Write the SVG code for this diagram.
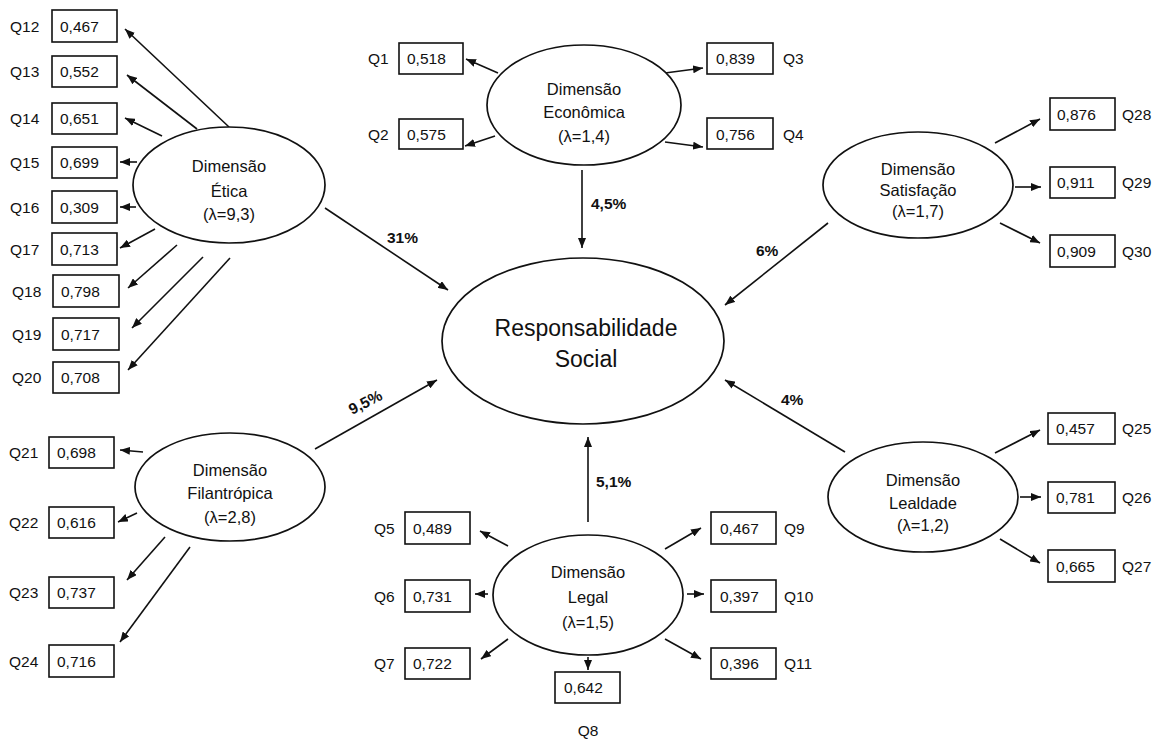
<svg xmlns="http://www.w3.org/2000/svg" width="1158" height="740" viewBox="0 0 1158 740">
<style>
text{font-family:"Liberation Sans",Arial,sans-serif;fill:#111}
.v{font-size:15.5px}
.q{font-size:15.5px}
.d{font-size:16.5px;text-anchor:middle}
.c{font-size:23px;text-anchor:middle}
.p{font-size:15.5px;font-weight:bold}
.box{fill:#fff;stroke:#111;stroke-width:1.6}
.ell{fill:#fff;stroke:#111;stroke-width:1.7}
.con line{stroke:#111;stroke-width:1.6;marker-end:url(#ah)}
</style>
<defs>
<marker id="ah" viewBox="0 0 10 8" refX="10" refY="4" markerWidth="10" markerHeight="8" markerUnits="userSpaceOnUse" orient="auto">
<path d="M0,0 L10,4 L0,8 z" fill="#111"/>
</marker>
</defs>
<rect width="1158" height="740" fill="#fff"/>

<g id="connectors" class="con">
<!-- Etica items -->
<line x1="229" y1="127" x2="125" y2="29"/>
<line x1="197" y1="129" x2="127" y2="75"/>
<line x1="162" y1="136" x2="125" y2="118"/>
<line x1="137" y1="162" x2="120" y2="162"/>
<line x1="136" y1="207" x2="120" y2="207"/>
<line x1="155" y1="229" x2="120" y2="248"/>
<line x1="177" y1="245" x2="128" y2="288"/>
<line x1="203" y1="257" x2="132" y2="328"/>
<line x1="230" y1="258" x2="128" y2="370"/>
<!-- Economica items -->
<line x1="498" y1="73" x2="466" y2="59"/>
<line x1="495" y1="136" x2="465" y2="146"/>
<line x1="665" y1="73" x2="703" y2="68"/>
<line x1="665" y1="142" x2="703" y2="147"/>
<!-- Satisfacao items -->
<line x1="995" y1="143" x2="1040" y2="119"/>
<line x1="1015" y1="187" x2="1041" y2="187"/>
<line x1="1000" y1="223" x2="1040" y2="243"/>
<!-- Lealdade items -->
<line x1="995" y1="453" x2="1040" y2="430"/>
<line x1="1020" y1="497" x2="1041" y2="497"/>
<line x1="1000" y1="539" x2="1040" y2="563"/>
<!-- Filantropica items -->
<line x1="143" y1="452" x2="120" y2="450"/>
<line x1="137" y1="513" x2="118" y2="522"/>
<line x1="165" y1="537" x2="127" y2="580"/>
<line x1="190" y1="547" x2="120" y2="642"/>
<!-- Legal items -->
<line x1="508" y1="546" x2="480" y2="531"/>
<line x1="488" y1="594" x2="475" y2="594"/>
<line x1="508" y1="639" x2="481" y2="659"/>
<line x1="588" y1="657" x2="588" y2="670"/>
<line x1="665" y1="549" x2="701" y2="528"/>
<line x1="687" y1="594" x2="704" y2="594"/>
<line x1="665" y1="639" x2="701" y2="659"/>
<!-- structural paths -->
<line x1="325" y1="208" x2="448" y2="290"/>
<line x1="582" y1="170" x2="582" y2="248"/>
<line x1="828" y1="223" x2="725" y2="305"/>
<line x1="845" y1="452" x2="725" y2="380"/>
<line x1="315" y1="449" x2="437" y2="380"/>
<line x1="588" y1="522" x2="588" y2="437"/>
</g>

<g id="path-labels">
<text class="p" x="387" y="243">31%</text>
<text class="p" x="591" y="209">4,5%</text>
<text class="p" x="756" y="256">6%</text>
<text class="p" x="781" y="405">4%</text>
<text class="p" x="596" y="487">5,1%</text>
<text class="p" x="0" y="0" transform="translate(352,415) rotate(-27)">9,5%</text>
</g>

<g id="node-rs">
<ellipse class="ell" cx="583" cy="341" rx="141" ry="83"/>
<text class="c" x="586" y="336">Responsabilidade</text>
<text class="c" x="586" y="367">Social</text>
</g>

<g id="node-etica">
<ellipse class="ell" cx="229" cy="185" rx="96" ry="58"/>
<text class="d" x="229" y="172">Dimensão</text>
<text class="d" x="229" y="197">Ética</text>
<text class="d" x="229" y="220">(λ=9,3)</text>
</g>

<g id="node-economica">
<ellipse class="ell" cx="584" cy="105" rx="97" ry="60"/>
<text class="d" x="584" y="95">Dimensão</text>
<text class="d" x="584" y="118">Econômica</text>
<text class="d" x="584" y="142">(λ=1,4)</text>
</g>

<g id="node-satisfacao">
<ellipse class="ell" cx="918" cy="185" rx="95" ry="53"/>
<text class="d" x="918" y="175">Dimensão</text>
<text class="d" x="918" y="196">Satisfação</text>
<text class="d" x="918" y="217">(λ=1,7)</text>
</g>

<g id="node-lealdade">
<ellipse class="ell" cx="923" cy="497" rx="95" ry="55"/>
<text class="d" x="923" y="486">Dimensão</text>
<text class="d" x="923" y="509">Lealdade</text>
<text class="d" x="923" y="531">(λ=1,2)</text>
</g>

<g id="node-filantropica">
<ellipse class="ell" cx="230" cy="487" rx="95" ry="54"/>
<text class="d" x="230" y="476">Dimensão</text>
<text class="d" x="230" y="499">Filantrópica</text>
<text class="d" x="230" y="523">(λ=2,8)</text>
</g>

<g id="node-legal">
<ellipse class="ell" cx="588" cy="595" rx="95" ry="60"/>
<text class="d" x="588" y="578">Dimensão</text>
<text class="d" x="588" y="603">Legal</text>
<text class="d" x="588" y="628">(λ=1,5)</text>
</g>

<!-- Etica items -->
<g id="q12"><rect class="box" x="52" y="10" width="65" height="32"/><text class="v" x="60" y="32">0,467</text><text class="q" x="10" y="32">Q12</text></g>
<g id="q13"><rect class="box" x="52" y="56" width="65" height="31"/><text class="v" x="60" y="77">0,552</text><text class="q" x="10" y="77">Q13</text></g>
<g id="q14"><rect class="box" x="52" y="103" width="65" height="31"/><text class="v" x="60" y="124">0,651</text><text class="q" x="10" y="124">Q14</text></g>
<g id="q15"><rect class="box" x="52" y="147" width="65" height="31"/><text class="v" x="60" y="168">0,699</text><text class="q" x="10" y="168">Q15</text></g>
<g id="q16"><rect class="box" x="52" y="191" width="65" height="32"/><text class="v" x="60" y="213">0,309</text><text class="q" x="10" y="213">Q16</text></g>
<g id="q17"><rect class="box" x="52" y="233" width="65" height="32"/><text class="v" x="60" y="255">0,713</text><text class="q" x="10" y="255">Q17</text></g>
<g id="q18"><rect class="box" x="53" y="275" width="66" height="32"/><text class="v" x="61" y="297">0,798</text><text class="q" x="12" y="297">Q18</text></g>
<g id="q19"><rect class="box" x="53" y="318" width="66" height="32"/><text class="v" x="61" y="340">0,717</text><text class="q" x="12" y="340">Q19</text></g>
<g id="q20"><rect class="box" x="53" y="362" width="66" height="31"/><text class="v" x="61" y="383">0,708</text><text class="q" x="12" y="383">Q20</text></g>

<!-- Filantropica items -->
<g id="q21"><rect class="box" x="49" y="437" width="65" height="31"/><text class="v" x="57" y="458">0,698</text><text class="q" x="9" y="458">Q21</text></g>
<g id="q22"><rect class="box" x="49" y="507" width="65" height="31"/><text class="v" x="57" y="528">0,616</text><text class="q" x="9" y="528">Q22</text></g>
<g id="q23"><rect class="box" x="49" y="577" width="65" height="31"/><text class="v" x="57" y="598">0,737</text><text class="q" x="9" y="598">Q23</text></g>
<g id="q24"><rect class="box" x="49" y="645" width="65" height="32"/><text class="v" x="57" y="667">0,716</text><text class="q" x="9" y="667">Q24</text></g>

<!-- Economica items -->
<g id="q1"><rect class="box" x="399" y="43" width="64" height="31"/><text class="v" x="407" y="64">0,518</text><text class="q" x="368" y="64">Q1</text></g>
<g id="q2"><rect class="box" x="399" y="119" width="64" height="30"/><text class="v" x="407" y="140">0,575</text><text class="q" x="368" y="140">Q2</text></g>
<g id="q3"><rect class="box" x="707" y="43" width="66" height="31"/><text class="v" x="716" y="64">0,839</text><text class="q" x="783" y="64">Q3</text></g>
<g id="q4"><rect class="box" x="707" y="118" width="66" height="31"/><text class="v" x="716" y="140">0,756</text><text class="q" x="783" y="140">Q4</text></g>

<!-- Satisfacao items -->
<g id="q28"><rect class="box" x="1050" y="98" width="65" height="32"/><text class="v" x="1057" y="120">0,876</text><text class="q" x="1122" y="120">Q28</text></g>
<g id="q29"><rect class="box" x="1050" y="167" width="65" height="31"/><text class="v" x="1057" y="188">0,911</text><text class="q" x="1122" y="188">Q29</text></g>
<g id="q30"><rect class="box" x="1050" y="235" width="65" height="32"/><text class="v" x="1057" y="257">0,909</text><text class="q" x="1122" y="257">Q30</text></g>

<!-- Lealdade items -->
<g id="q25"><rect class="box" x="1048" y="413" width="67" height="31"/><text class="v" x="1056" y="434">0,457</text><text class="q" x="1122" y="434">Q25</text></g>
<g id="q26"><rect class="box" x="1048" y="482" width="67" height="31"/><text class="v" x="1056" y="503">0,781</text><text class="q" x="1122" y="503">Q26</text></g>
<g id="q27"><rect class="box" x="1048" y="550" width="67" height="32"/><text class="v" x="1056" y="572">0,665</text><text class="q" x="1122" y="572">Q27</text></g>

<!-- Legal items -->
<g id="q5"><rect class="box" x="405" y="512" width="65" height="32"/><text class="v" x="413" y="534">0,489</text><text class="q" x="374" y="534">Q5</text></g>
<g id="q6"><rect class="box" x="405" y="580" width="65" height="32"/><text class="v" x="413" y="602">0,731</text><text class="q" x="374" y="602">Q6</text></g>
<g id="q7"><rect class="box" x="405" y="648" width="65" height="31"/><text class="v" x="413" y="669">0,722</text><text class="q" x="374" y="669">Q7</text></g>
<g id="q8"><rect class="box" x="555" y="672" width="65" height="31"/><text class="v" x="564" y="693">0,642</text><text class="q" x="588" y="736" text-anchor="middle">Q8</text></g>
<g id="q9"><rect class="box" x="711" y="512" width="65" height="32"/><text class="v" x="720" y="534">0,467</text><text class="q" x="784" y="534">Q9</text></g>
<g id="q10"><rect class="box" x="711" y="580" width="65" height="32"/><text class="v" x="720" y="602">0,397</text><text class="q" x="784" y="602">Q10</text></g>
<g id="q11"><rect class="box" x="711" y="648" width="65" height="31"/><text class="v" x="720" y="669">0,396</text><text class="q" x="784" y="669">Q11</text></g>
</svg>
